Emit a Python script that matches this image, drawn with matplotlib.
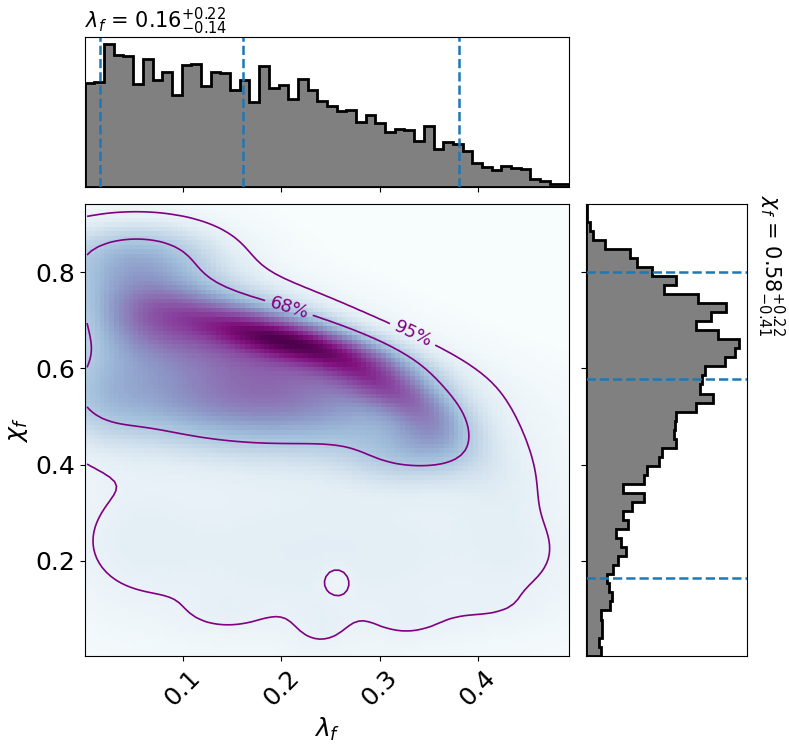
import numpy as np
import matplotlib
matplotlib.use('Agg')
import matplotlib.pyplot as plt

# limites de los ejes (rango de las muestras)
lam_range = (0.0, 0.493)
chi_range = (0.003, 0.942)

# histogramas marginales (50 bins cada uno), alturas
lam_counts = [315, 317, 432, 400, 396, 312, 387, 325, 347, 279,
              370, 373, 304, 347, 344, 292, 324, 257, 365, 299,
              307, 267, 327, 292, 259, 245, 230, 234, 197, 218,
              194, 166, 175, 172, 139, 184, 115, 135, 129, 109,
              74, 59, 52, 65, 57, 54, 25, 19, 9, 9]
chi_counts = [46, 41, 49, 49, 47, 73, 78, 71, 63, 83,
              98, 120, 105, 91, 128, 113, 140, 175, 113, 175,
              183, 220, 228, 273, 266, 270, 273, 333, 383, 343,
              351, 358, 418, 448, 461, 398, 331, 378, 423, 338,
              235, 273, 198, 153, 133, 58, 23, 13, 5, 3]

# percentiles 5/50/95 (lineas discontinuas)
lam_quant = [0.016, 0.161, 0.381]
chi_quant = [0.164, 0.577, 0.800]

# componentes de la densidad 2D (centro, anchura, correlacion, altura)
blob_lam = [0.14, 0.22, 0.06, 0.305, 0.355, 0.16, 0.33, 0.24, 0.44, 0.02, 0.055, 0.42, 0.05,
            0.14, 0.24, 0.33, 0.41, 0.256]
blob_chi = [0.68, 0.655, 0.70, 0.565, 0.48, 0.53, 0.42, 0.22, 0.22, 0.54, 0.84, 0.37, 0.26,
            0.09, 0.06, 0.07, 0.10, 0.161]
blob_sig_lam = [0.10, 0.07, 0.045, 0.04, 0.03, 0.13, 0.045, 0.19, 0.035, 0.03, 0.06, 0.035, 0.04,
                0.03, 0.02, 0.03, 0.04, 0.012]
blob_sig_chi = [0.085, 0.045, 0.07, 0.045, 0.05, 0.075, 0.045, 0.14, 0.07, 0.08, 0.05, 0.06, 0.09,
                0.03, 0.035, 0.03, 0.03, 0.025]
blob_rho = [-0.55, -0.7, 0.0, -0.6, -0.3, -0.2, 0.0, 0.0, 0.0, 0.0, 0.0, 0.0, 0.0,
            0.0, 0.0, 0.0, 0.0, 0.0]
blob_amp = [0.45, 0.45, 0.20, 0.30, 0.20, 0.45, 0.16, 0.10, 0.03, 0.07, 0.26, 0.05, 0.035,
            0.025, 0.03, 0.025, 0.02, -0.04]

# rejilla de 100x100 celdas
n = 100
lam_e = np.linspace(lam_range[0], lam_range[1], n + 1)
chi_e = np.linspace(chi_range[0], chi_range[1], n + 1)
lam_c = 0.5 * (lam_e[1:] + lam_e[:-1])
chi_c = 0.5 * (chi_e[1:] + chi_e[:-1])
X, Y = np.meshgrid(lam_c, chi_c)

dens = np.zeros_like(X)
for x0, y0, sx, sy, r, a in zip(blob_lam, blob_chi, blob_sig_lam, blob_sig_chi, blob_rho, blob_amp):
    dx = (X - x0) / sx
    dy = (Y - y0) / sy
    q = (dx**2 + dy**2 - 2 * r * dx * dy) / (1 - r**2)
    dens += a * np.exp(-0.5 * q)
dens = np.clip(dens, 0, None)
dens /= dens.sum()

# niveles de credibilidad 68% y 95%
flat = np.sort(dens.ravel())[::-1]
cum = np.cumsum(flat)
lev68 = flat[np.searchsorted(cum, 0.68)]
lev95 = flat[np.searchsorted(cum, 0.95)]

fig = plt.figure(figsize=(7.89, 7.45), dpi=100)
ax = fig.add_axes([0.1073, 0.1199, 0.6142, 0.6067])
ax_top = fig.add_axes([0.1073, 0.749, 0.6142, 0.2013])
ax_right = fig.add_axes([0.7423, 0.1199, 0.2041, 0.6067])

# panel central
ax.imshow(dens, origin='lower', aspect='auto', cmap='BuPu', interpolation='nearest',
          extent=[lam_range[0], lam_range[1], chi_range[0], chi_range[1]])
cs95 = ax.contour(X, Y, dens, levels=[lev95], colors='purple', linewidths=1.2)
cs68 = ax.contour(X, Y, dens, levels=[lev68], colors='purple', linewidths=1.2)
ax.clabel(cs95, fmt={lev95: '95%'}, fontsize=13, inline=True, manual=[(0.327, 0.642)])
ax.clabel(cs68, fmt={lev68: '68%'}, fontsize=13, inline=True, manual=[(0.214, 0.767)])
ax.set_xlim(lam_range)
ax.set_ylim(chi_range)
ax.set_xticks([0.1, 0.2, 0.3, 0.4])
ax.set_yticks([0.2, 0.4, 0.6, 0.8])
ax.tick_params(labelsize=18)
plt.setp(ax.get_xticklabels(), rotation=45)
ax.set_xlabel(r'$\lambda_f$', fontsize=18)
ax.set_ylabel(r'$\chi_f$', fontsize=18)

# histograma de lambda
lam_bins = np.linspace(lam_range[0], lam_range[1], 51)
ax_top.hist(0.5 * (lam_bins[1:] + lam_bins[:-1]), bins=lam_bins, weights=lam_counts,
            histtype='stepfilled', facecolor='gray', edgecolor='k', lw=2)
for q in lam_quant:
    ax_top.axvline(q, color='C0', ls='--', lw=1.8)
ax_top.set_xlim(lam_range)
ax_top.set_xticks([0.1, 0.2, 0.3, 0.4])
ax_top.set_xticklabels([])
ax_top.set_yticks([])
ax_top.set_title(r'$\lambda_f$ = $0.16^{+0.22}_{-0.14}$', loc='left', fontsize=15)

# histograma de chi
chi_bins = np.linspace(chi_range[0], chi_range[1], 51)
ax_right.hist(0.5 * (chi_bins[1:] + chi_bins[:-1]), bins=chi_bins, weights=chi_counts,
              histtype='stepfilled', facecolor='gray', edgecolor='k', lw=2,
              orientation='horizontal')
for q in chi_quant:
    ax_right.axhline(q, color='C0', ls='--', lw=1.8)
ax_right.set_ylim(chi_range)
ax_right.set_yticks([0.2, 0.4, 0.6, 0.8])
ax_right.set_yticklabels([])
ax_right.set_xticks([])
ax_right.text(1.05, 1.019, r'$\chi_f$ = $0.58^{+0.22}_{-0.41}$', rotation=-90, va='top', ha='left',
              fontsize=15, transform=ax_right.transAxes)

fig.savefig('out.png', dpi=100)
